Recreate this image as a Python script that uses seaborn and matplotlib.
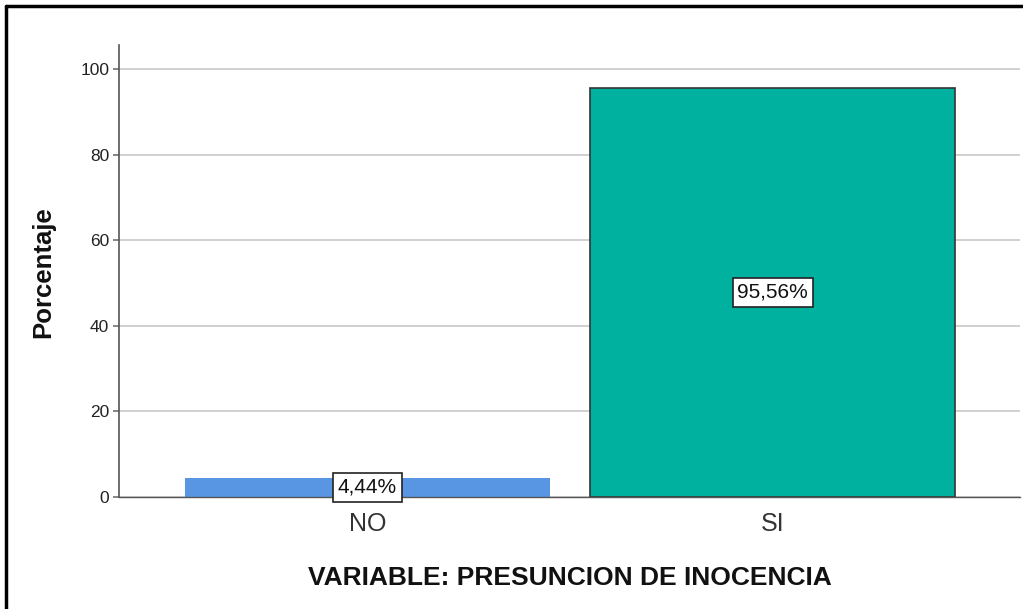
import matplotlib
matplotlib.use("Agg")
import matplotlib.pyplot as plt
import seaborn as sns
import pandas as pd
from matplotlib.lines import Line2D

categories = ["NO", "SI"]
values = [4.44, 95.56]
labels = ["4,44%", "95,56%"]
colors = ["#5895E3", "#00B1A0"]
yticks = [0, 20, 40, 60, 80, 100]

sns.set_theme(style="white")
plt.rcParams["font.family"] = ["Liberation Sans", "DejaVu Sans"]

df = pd.DataFrame({"cat": categories, "val": values})

W, H = 1023, 609
x0, x1, y0, y1 = 119, 1020, 497, 45
fig = plt.figure(figsize=(W / 100, H / 100), dpi=100)
ax = fig.add_axes([x0 / W, 1 - y0 / H, (x1 - x0) / W, (y0 - y1) / H])

sns.barplot(data=df, x="cat", y="val", hue="cat", palette=colors, order=categories,
            width=0.9, ax=ax, legend=False, saturation=1)

for i, p in enumerate(ax.patches):
    if i == 1:
        p.set_edgecolor("#333333")
        p.set_linewidth(1.2)
    else:
        p.set_edgecolor("none")
    cx = p.get_x() + p.get_width() / 2
    cy = p.get_height() / 2
    ax.text(cx, cy, labels[i], ha="center", va="center", fontsize=15, color="#111111",
            bbox=dict(boxstyle="square,pad=0.22", fc="white", ec="#222222", lw=1.2), zorder=5)

ax.set_xlim(-0.613, 1.61)
ax.set_ylim(0, 105.6)
ax.set_yticks(yticks)
ax.yaxis.grid(True, color="#c8c8c8", lw=1.2)
ax.set_axisbelow(True)
for s in ["top", "right"]:
    ax.spines[s].set_visible(False)
ax.spines["left"].set_color("#555555")
ax.spines["bottom"].set_color("#555555")
ax.spines["left"].set_linewidth(1.2)
ax.spines["bottom"].set_linewidth(1.0)
ax.tick_params(axis="y", left=True, length=4, color="#777777", labelsize=12.5, labelcolor="#222222", pad=3)
ax.tick_params(axis="x", bottom=False, labelsize=18, labelcolor="#333333", pad=5)

ax.set_ylabel("Porcentaje", fontsize=18.5, fontweight="bold", color="#111111")
ax.set_xlabel("VARIABLE: PRESUNCION DE INOCENCIA", fontsize=19, fontweight="bold", color="#111111")
ax.yaxis.label.set_va("center")
ax.xaxis.label.set_va("center")
ax.xaxis.set_label_coords((570 - x0) / (x1 - x0), -(578 - y0) / (y0 - y1))
ax.yaxis.set_label_coords(-(x0 - 43) / (x1 - x0), (y0 - 272) / (y0 - y1))

# outer border (left and top)
fig.add_artist(Line2D([6 / W, 6 / W], [0, 1 - 6 / H], transform=fig.transFigure, color="black", lw=2.5))
fig.add_artist(Line2D([6 / W, 1], [1 - 6 / H, 1 - 6 / H], transform=fig.transFigure, color="black", lw=2.5))

fig.savefig("out.png", dpi=100)
